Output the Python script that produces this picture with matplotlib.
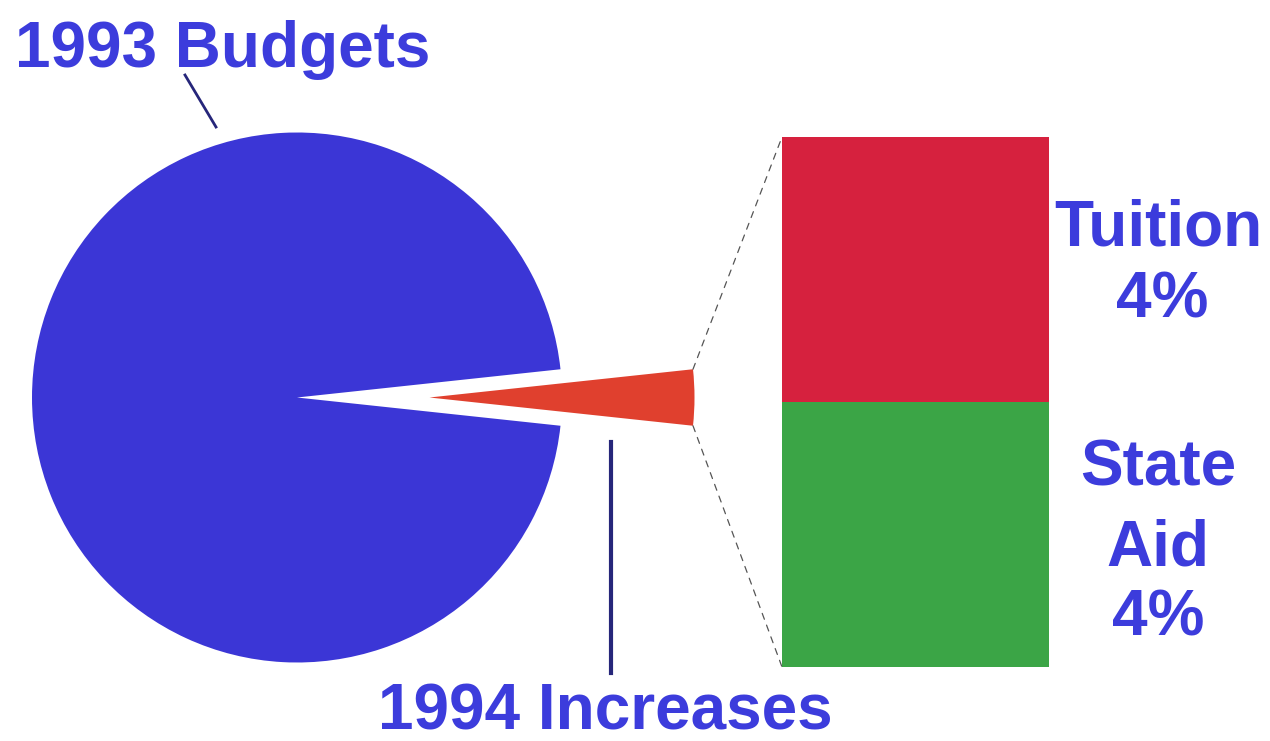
import matplotlib
matplotlib.use("Agg")
import matplotlib.pyplot as plt
from matplotlib.patches import ConnectionPatch
import numpy as np

# ---- data ----
pie_labels = ["1994 Increases", "1993 Budgets"]
pie_values = [3.4, 96.6]
bar_labels = ["State\nAid", "Tuition"]
bar_values = [4, 4]          # percent
bar_pct_text = ["4%", "4%"]

BLUE = "#3b36d6"
WEDGE_RED = "#e0402e"
BAR_RED = "#d6213e"
BAR_GREEN = "#3ba546"
TEXT_BLUE = "#3c3cdc"
LINE_NAVY = "#26267a"

plt.rcParams["font.family"] = ["Liberation Sans", "DejaVu Sans"]

W, H = 1270, 741
fig = plt.figure(figsize=(W / 100, H / 100), dpi=100)
ax = fig.add_axes([0, 0, 1, 1])

R = 265
start = -pie_values[0] / sum(pie_values) * 360 / 2
wedges, _ = ax.pie(pie_values, colors=[WEDGE_RED, BLUE], explode=[0.5 * R, 0],
                   center=(297, 397.5), radius=R, startangle=start,
                   counterclock=True, frame=True,
                   wedgeprops=dict(linewidth=0))
ax.set_xlim(0, W)
ax.set_ylim(H, 0)
ax.set_aspect("auto")
ax.axis("off")

# stacked bar
bx0, bx1, by_top, by_bot = 782, 1049, 137, 667
bax = fig.add_axes([bx0 / W, (H - by_bot) / H, (bx1 - bx0) / W, (by_bot - by_top) / H])
bax.bar(0, bar_values[0], width=1, color=BAR_GREEN, linewidth=0)
bax.bar(0, bar_values[1], bottom=bar_values[0], width=1, color=BAR_RED, linewidth=0)
bax.set_xlim(-0.5, 0.5)
bax.set_ylim(0, sum(bar_values))
bax.axis("off")

# connector lines from wedge outer corners to bar corners
w = wedges[0]
cx, cy = w.center
r = w.r
pts = []
for th in (w.theta1, w.theta2):
    pts.append((cx + r * np.cos(np.radians(th)), cy + r * np.sin(np.radians(th))))
pts.sort(key=lambda p: p[1])  # smaller y = visually top
for p, yb in ((pts[0], sum(bar_values)), (pts[1], 0)):
    con = ConnectionPatch(xyA=p, coordsA=ax.transData, xyB=(-0.5, yb),
                          coordsB=bax.transData, color="#555555",
                          lw=0.9, ls=(0, (5, 5)))
    fig.add_artist(con)

fs = 46
kw = dict(color=TEXT_BLUE, fontsize=fs, fontweight="bold", va="baseline")
ax.text(15, 67, pie_labels[1], ha="left", **kw)
ax.text(605, 729, pie_labels[0], ha="center", **kw)

ax.plot([185, 216], [75, 127], color=LINE_NAVY, lw=2)
ax.plot([611, 611], [442, 673], color=LINE_NAVY, lw=3)

# right labels
tx = 1158
ax.text(tx, 245, bar_labels[1], ha="center", **kw)
ax.text(tx + 4, 317, bar_pct_text[1], ha="center", **kw)
sa = bar_labels[0].split("\n")
ax.text(tx, 485, sa[0], ha="center", **kw)
ax.text(tx, 566, sa[1], ha="center", **kw)
ax.text(tx, 636, bar_pct_text[0], ha="center", **kw)

fig.savefig("out.png", dpi=100, facecolor="white")
